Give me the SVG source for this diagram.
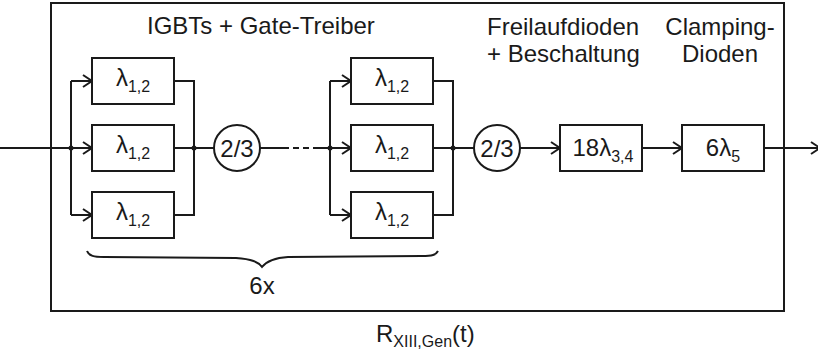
<svg xmlns="http://www.w3.org/2000/svg" width="818" height="358" viewBox="0 0 818 358">
<defs>
<marker id="arr" viewBox="-10 -7 12 14" refX="0" refY="0" markerWidth="12" markerHeight="14" markerUnits="userSpaceOnUse" orient="auto">
<path d="M-9,-6 L0,0 L-9,6" fill="none" stroke="#1a1a1a" stroke-width="2"/>
</marker>
<style>
.ln{fill:none;stroke:#1a1a1a;stroke-width:2}
.ar{fill:none;stroke:#1a1a1a;stroke-width:2;marker-end:url(#arr)}
.bx{fill:#fff;stroke:#1a1a1a;stroke-width:2}
.t{font-family:"Liberation Sans",Arial,sans-serif;fill:#1a1a1a;font-size:24px}
.lb{font-family:"Liberation Sans",Arial,sans-serif;fill:#1a1a1a;font-size:24px}
.sub{font-size:16px}
.dot{fill:#1a1a1a}
</style>
</defs>
<rect id="frame" x="51" y="3" width="733" height="308" fill="none" stroke="#1a1a1a" stroke-width="2"/>
<g id="connectors">
<line class="ln" x1="0" y1="148" x2="71" y2="148"/>
<path class="ln" d="M71,81 V215"/>
<path class="ar" d="M71,81 H92"/>
<path class="ar" d="M71,148 H92"/>
<path class="ar" d="M71,215 H92"/>
<path class="ln" d="M174,81 H194 V215 H174"/>
<path class="ln" d="M174,148 H214"/>
<path class="ln" d="M260,148 H283"/>
<path class="ln" d="M283,148 H313" stroke-dasharray="6,4"/>
<path class="ln" d="M313,148 H330"/>
<path class="ln" d="M330,81 V215"/>
<path class="ar" d="M330,81 H351"/>
<path class="ar" d="M330,148 H351"/>
<path class="ar" d="M330,215 H351"/>
<path class="ln" d="M433,81 H453 V215 H433"/>
<path class="ln" d="M433,148 H474"/>
<path class="ar" d="M520,148 H560"/>
<path class="ar" d="M642,148 H682"/>
<path class="ar" d="M764,148 H820"/>
<circle class="dot" cx="71" cy="148" r="2.5"/>
<circle class="dot" cx="194" cy="148" r="2.5"/>
<circle class="dot" cx="330" cy="148" r="2.5"/>
<circle class="dot" cx="453" cy="148" r="2.5"/>
</g>
<g id="b1a"><rect class="bx" x="92" y="58" width="82" height="46"/><text class="lb" x="133" y="86" text-anchor="middle">λ<tspan class="sub" dy="6">1,2</tspan></text></g>
<g id="b1b"><rect class="bx" x="92" y="125" width="82" height="46"/><text class="lb" x="133" y="153" text-anchor="middle">λ<tspan class="sub" dy="6">1,2</tspan></text></g>
<g id="b1c"><rect class="bx" x="92" y="192" width="82" height="46"/><text class="lb" x="133" y="220" text-anchor="middle">λ<tspan class="sub" dy="6">1,2</tspan></text></g>
<g id="v1"><circle class="bx" cx="237" cy="148" r="23"/><text class="t" x="237" y="157" text-anchor="middle">2/3</text></g>
<g id="b2a"><rect class="bx" x="351" y="58" width="82" height="46"/><text class="lb" x="392" y="86" text-anchor="middle">λ<tspan class="sub" dy="6">1,2</tspan></text></g>
<g id="b2b"><rect class="bx" x="351" y="125" width="82" height="46"/><text class="lb" x="392" y="153" text-anchor="middle">λ<tspan class="sub" dy="6">1,2</tspan></text></g>
<g id="b2c"><rect class="bx" x="351" y="192" width="82" height="46"/><text class="lb" x="392" y="220" text-anchor="middle">λ<tspan class="sub" dy="6">1,2</tspan></text></g>
<g id="v2"><circle class="bx" cx="497" cy="148" r="23"/><text class="t" x="497" y="157" text-anchor="middle">2/3</text></g>
<g id="b3"><rect class="bx" x="560" y="125" width="82" height="46"/><text class="lb" x="603" y="156" text-anchor="middle">18λ<tspan class="sub" dy="6">3,4</tspan></text></g>
<g id="b4"><rect class="bx" x="682" y="125" width="82" height="46"/><text class="lb" x="723" y="156" text-anchor="middle">6λ<tspan class="sub" dy="6">5</tspan></text></g>
<g id="labels">
<text class="t" x="147" y="34">IGBTs + Gate-Treiber</text>
<text class="t" x="487" y="35">Freilaufdioden</text>
<text class="t" x="487" y="62">+ Beschaltung</text>
<text class="t" x="720" y="35" text-anchor="middle">Clamping-</text>
<text class="t" x="720" y="62" text-anchor="middle">Dioden</text>
<path class="ln" d="M87,251 C89,256 94,257 104,257 L236,258 C252,259 258,262 262,267 C266,262 272,258 288,257 L422,256 C432,256 436,255 438,251"/>
<text class="t" x="262" y="294" text-anchor="middle">6x</text>
<text class="t" x="376" y="342">R<tspan class="sub" dy="5">XIII,Gen</tspan><tspan dy="-5">(t)</tspan></text>
</g>
</svg>
